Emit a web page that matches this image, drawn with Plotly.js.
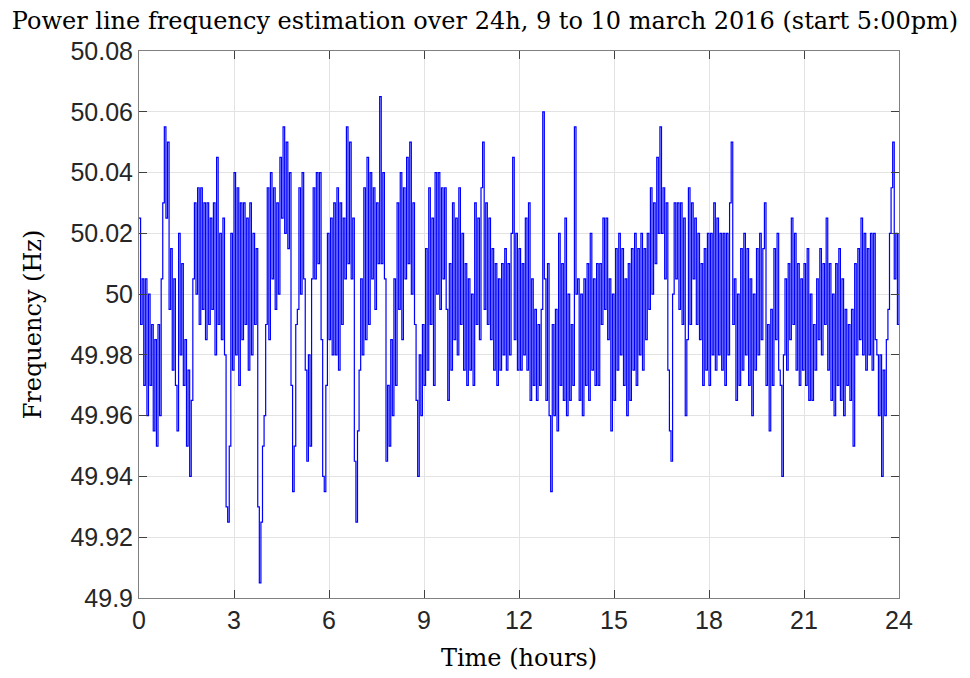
<!DOCTYPE html>
<html>
<head>
<meta charset="utf-8">
<script src="https://cdn.plot.ly/plotly-3.0.1.min.js"></script>
<style>html,body{margin:0;padding:0;background:#fff;}#chart{width:970px;height:678px;}</style>
</head>
<body>
<div id="chart"></div>
<script>
// Sampling step of the hand-read series (hours)
const stepHours = 0.05;

// Frequency readings (Hz), one row per hour, 20 samples each, plus final value at 24h
const freqHz = [
 50.025,49.99,50.005,49.97,50.005,49.96,50.00,49.97,49.99,49.955,49.985,49.95,49.99,49.96,50.005,50.03,50.055,50.025,50.05,49.995,
 50.015,49.975,50.005,49.97,49.955,50.02,49.98,50.01,49.97,49.985,49.95,49.975,49.94,49.965,50.005,50.03,50.00,50.035,49.99,50.035,
 49.995,50.03,49.985,50.03,49.99,50.025,49.995,50.03,49.98,50.045,49.99,50.02,49.985,50.025,49.98,49.93,49.925,49.95,50.02,49.975,
 50.04,49.98,50.035,49.97,50.03,49.985,50.03,49.99,50.025,49.975,50.03,49.98,50.02,49.99,50.015,49.93,49.905,49.925,49.95,49.96,
 49.99,50.035,49.985,50.04,50.005,50.035,49.995,50.03,50.00,50.045,50.025,50.055,50.02,50.05,50.015,50.04,49.97,49.935,49.95,49.99,
 49.995,50.035,50.00,50.04,50.005,49.975,49.945,49.98,49.95,50.005,50.035,50.005,50.04,50.01,50.04,49.985,49.94,49.935,49.97,50.02,
 49.985,50.025,49.98,50.03,49.98,50.035,49.975,50.03,49.99,50.025,50.005,50.055,50.01,50.05,50.005,50.025,49.945,49.925,49.955,49.975,
 50.005,49.98,50.035,49.985,50.045,49.99,50.04,50.005,50.035,49.995,50.03,50.01,50.065,50.01,50.04,50.005,49.945,49.97,49.95,49.985,
 49.96,50.005,49.97,50.03,49.995,50.04,49.985,50.035,50.005,50.045,50.01,50.05,50.00,50.03,49.99,49.965,49.94,49.98,49.96,49.99,
 49.97,50.015,49.975,50.035,49.99,50.025,49.97,50.04,50.00,50.04,49.995,50.035,50.005,50.035,49.995,49.965,50.01,49.975,50.03,49.985,
 50.025,49.98,50.035,49.99,50.02,49.975,50.01,49.97,50.005,49.975,50.00,49.97,50.03,49.99,50.025,49.985,50.035,50.05,49.995,50.03,
 49.99,50.025,49.985,50.015,49.975,50.01,49.97,50.005,49.975,50.01,49.98,50.015,49.975,50.01,49.98,50.02,50.045,49.985,50.02,49.975,
 50.015,49.975,50.01,49.98,50.025,49.975,50.03,49.965,50.005,49.97,49.995,49.965,49.99,49.97,49.995,50.06,50.005,49.965,50.01,49.96,
 49.935,49.99,49.96,49.995,49.955,50.02,49.97,50.01,49.965,50.025,49.96,50.00,49.965,49.99,49.97,50.055,50.00,50.005,49.965,50.00,
 49.96,50.005,49.97,50.01,49.965,50.02,49.975,50.005,49.97,50.01,49.97,50.01,49.99,50.025,49.995,50.025,49.985,50.005,49.955,50.00,
 49.965,50.015,49.975,50.02,49.98,50.015,49.97,50.005,49.96,50.01,49.965,50.015,49.975,50.02,49.97,50.015,49.98,50.02,49.975,50.015,
 49.985,50.02,49.995,50.035,50.00,50.03,50.01,50.045,50.02,50.055,50.02,50.035,50.005,50.03,49.975,49.955,49.945,50.00,50.03,50.005,
 50.03,49.995,50.03,49.99,50.025,49.96,49.985,50.035,49.99,50.03,50.005,50.025,49.99,50.02,49.985,50.01,49.97,50.015,49.975,50.02,
 49.97,50.02,49.98,50.03,49.975,50.025,49.98,50.02,49.975,50.02,49.97,50.02,49.98,50.03,50.05,49.99,50.005,49.965,50.00,49.97,
 50.015,49.975,50.02,49.98,50.015,49.97,50.005,49.96,50.00,49.975,50.015,49.98,50.02,49.985,50.015,50.03,49.97,49.99,49.955,49.995,
 49.97,50.015,49.985,50.02,49.975,49.97,49.94,49.98,50.005,49.975,50.01,49.985,50.025,49.99,50.02,49.975,50.01,49.97,50.005,49.975,
 50.01,49.97,50.015,49.965,50.00,49.965,49.99,49.975,50.005,49.985,50.015,49.98,50.01,49.99,50.025,49.975,50.01,49.965,50.00,49.96,
 50.01,49.97,50.015,49.965,50.005,49.96,49.995,49.97,49.99,49.965,49.995,49.95,50.01,49.98,50.015,49.985,50.025,49.98,50.02,49.975,
 50.015,49.98,50.02,49.975,50.02,49.985,49.98,49.96,49.98,49.94,49.975,49.96,49.985,49.995,50.02,50.035,50.05,50.005,50.02,49.99,
 50.02
];

// Time axis (hours) for each reading
const timeHours = freqHz.map((_, i) => +(i * stepHours).toFixed(4));

// Tick labels
const xTickVals = [0, 3, 6, 9, 12, 15, 18, 21, 24];
const xTickText = ["0", "3", "6", "9", "12", "15", "18", "21", "24"];
const yTickVals = [49.9, 49.92, 49.94, 49.96, 49.98, 50, 50.02, 50.04, 50.06, 50.08];
const yTickText = ["49.9", "49.92", "49.94", "49.96", "49.98", "50", "50.02", "50.04", "50.06", "50.08"];

const titleText = "Power line frequency estimation over 24h, 9 to 10 march 2016 (start 5:00pm)";
const xTitle = "Time (hours)";
const yTitle = "Frequency (Hz)";

const serif = "DejaVu Serif, Liberation Serif, serif";
const sans = "Liberation Sans, Arial, Helvetica, sans-serif";

const trace = {
  x: timeHours,
  y: freqHz,
  type: "scatter",
  mode: "lines",
  line: { color: "#0000ff", width: 1.2, shape: "hv" },
  hoverinfo: "skip"
};

const axisCommon = {
  showline: true,
  linecolor: "#808080",
  linewidth: 1,
  mirror: "ticks",
  ticks: "inside",
  ticklen: 8,
  tickcolor: "#404040",
  tickwidth: 1,
  showgrid: true,
  gridcolor: "#e3e3e3",
  gridwidth: 1,
  zeroline: false,
  tickfont: { family: sans, size: 25, color: "#262626" },
  tickmode: "array"
};

const layout = {
  width: 970,
  height: 678,
  margin: { l: 139, r: 71, t: 51, b: 80 },
  paper_bgcolor: "#ffffff",
  plot_bgcolor: "#ffffff",
  showlegend: false,
  title: {
    text: titleText,
    font: { family: serif, size: 24, color: "#000000" },
    x: 0.5, xanchor: "center", y: 0.97, yanchor: "middle", xref: "container"
  },
  xaxis: Object.assign({}, axisCommon, {
    range: [0, 24],
    tickvals: xTickVals,
    ticktext: xTickText,
    title: { text: xTitle, font: { family: serif, size: 24, color: "#000000" }, standoff: 16 }
  }),
  yaxis: Object.assign({}, axisCommon, {
    range: [49.9, 50.08],
    tickvals: yTickVals,
    ticktext: yTickText,
    title: { text: yTitle, font: { family: serif, size: 24, color: "#000000" }, standoff: 22 }
  })
};

Plotly.newPlot("chart", [trace], layout, { displayModeBar: false, staticPlot: true });
</script>
</body>
</html>
